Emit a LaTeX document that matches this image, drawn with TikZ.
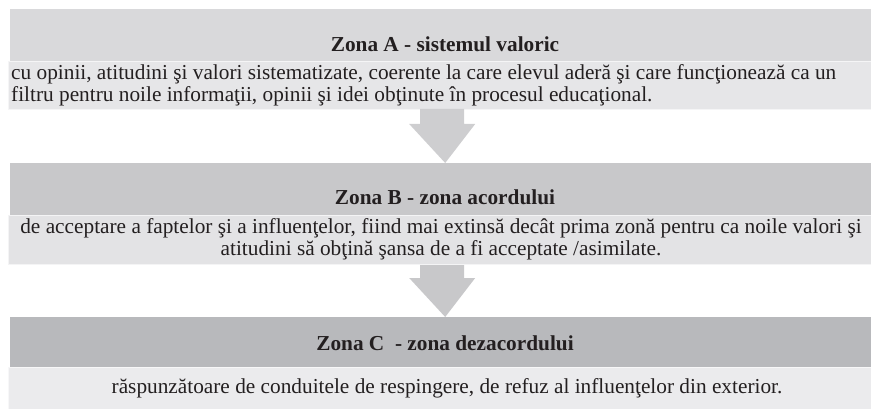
\documentclass[tikz,border=0pt]{standalone}
\usepackage{fontspec}
\setmainfont{Liberation Serif}
\usepackage{tikz}
\usepackage{xcolor}

\definecolor{headA}{HTML}{D9D9DB}
\definecolor{bodyA}{HTML}{E6E6E8}
\definecolor{headB}{HTML}{C8C8CA}
\definecolor{bodyB}{HTML}{E3E3E5}
\definecolor{headC}{HTML}{B8B9BC}
\definecolor{bodyC}{HTML}{EBEBED}
\definecolor{ink}{HTML}{231F20}

\begin{document}
\begin{tikzpicture}[x=1pt, y=-1pt,
  headbox/.style={rectangle, anchor=north west, inner sep=0pt, minimum width=861pt},
  bodybox/.style={rectangle, anchor=north west, inner sep=0pt, minimum width=863.5pt, draw=#1!40!white, line width=0.8pt, fill=#1},
  title/.style={font=\fontsize{21.3}{22}\selectfont\bfseries, text=ink, inner sep=0pt, anchor=base},
  txt/.style={font=\fontsize{21.3}{21.8}\selectfont, text=ink, inner sep=0pt}]
  \useasboundingbox (0,0) rectangle (871,409);

  \node[headbox, fill=headA, minimum height=52pt] (boxA) at (10,9) {};
  \node[bodybox=bodyA, minimum height=48pt] (textboxA) at (7.5,61) {};
  \node[headbox, fill=headB, minimum height=52pt] (boxB) at (10,163) {};
  \node[bodybox=bodyB, minimum height=49pt] (textboxB) at (7.5,215) {};
  \node[headbox, fill=headC, minimum height=50pt] (boxC) at (10,317) {};
  \node[bodybox=bodyC, minimum height=43pt] (textboxC) at (7.5,367) {};

  \node[title] (zonaA) at (445,52) {Zona A - sistemul valoric};
  \node[title] (zonaB) at (445,205) {Zona B - zona acordului};
  \node[title] (zonaC) at (445,350) {Zona C\ \ - zona dezacordului};

  \node[txt, anchor=west, align=left] (descA) at (11,85.5)
    {cu opinii, atitudini şi valori sistematizate, coerente la care elevul aderă şi care funcţionează ca un\\
     filtru pentru noile informaţii, opinii şi idei obţinute în procesul educaţional.};
  \node[txt, align=center] (descB) at (441,239.5)
    {de acceptare a faptelor şi a influenţelor, fiind mai extinsă decât prima zonă pentru ca noile valori şi\\
     atitudini să obţină şansa de a fi acceptate /asimilate.};
  \node[txt] (descC) at (447,388)
    {răspunzătoare de conduitele de respingere, de refuz al influenţelor din exterior.};

  % block arrows between the zones
  \coordinate (tipA) at ([xshift=4.5pt]boxB.north);
  \coordinate (tipB) at ([xshift=4.5pt]boxC.north);
  \fill[fill=headA!95!black] (tipA) -- ++(-36,-39) -- ++(11,0) -- ++(0,-15) -- ++(44,0)
    -- ++(0,15) -- ++(11,0) -- cycle;
  \fill[fill=headB] (tipB) -- ++(-36,-39) -- ++(11,0) -- ++(0,-13) -- ++(44,0)
    -- ++(0,13) -- ++(11,0) -- cycle;
\end{tikzpicture}
\end{document}
